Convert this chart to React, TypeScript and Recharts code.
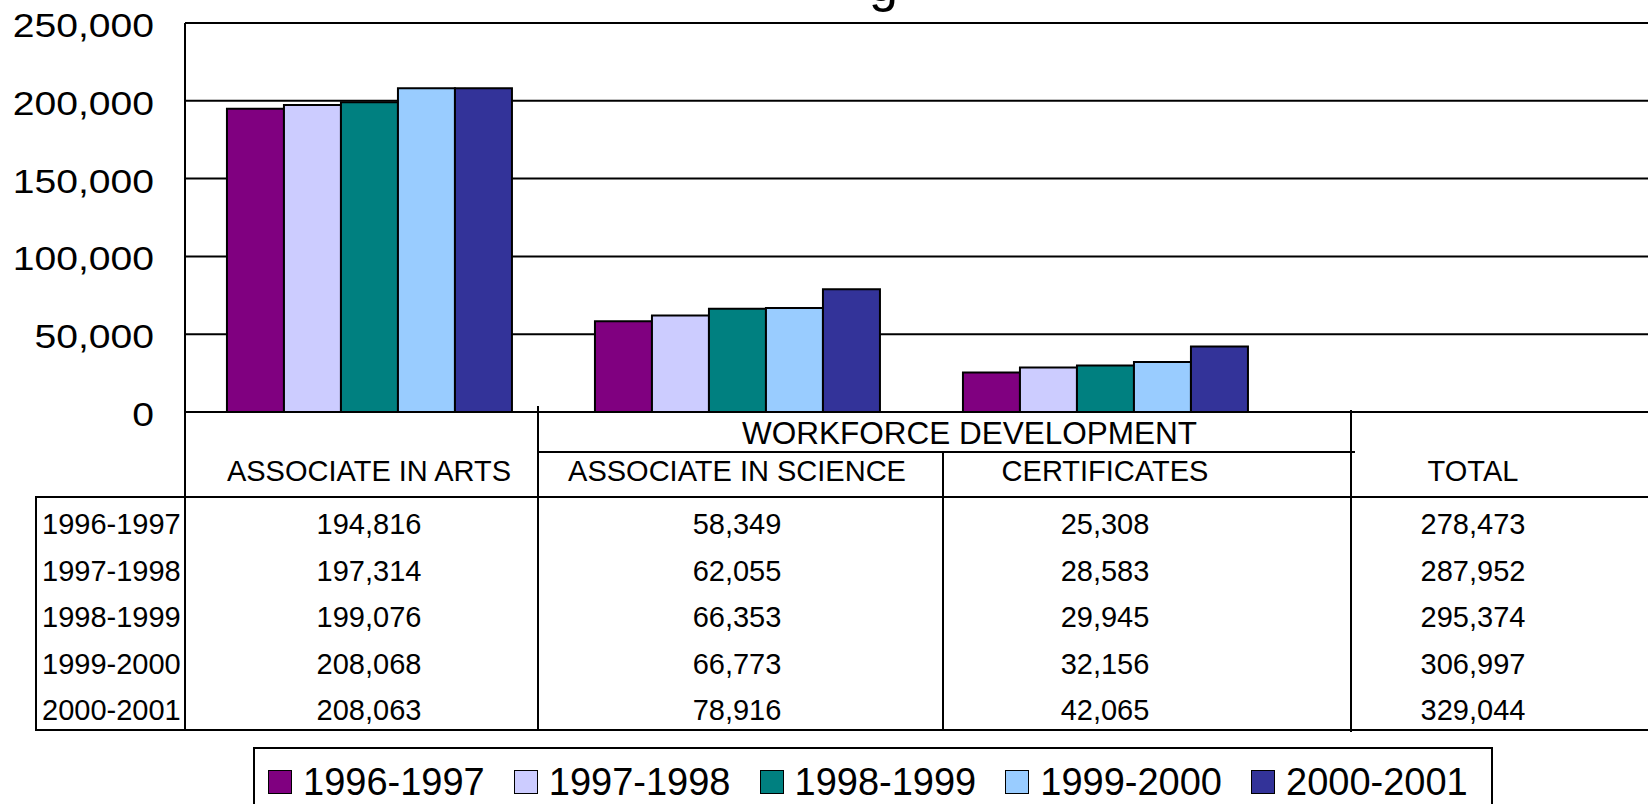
// 学位/证书人数柱状图 + 数据表

import { BarChart, Bar, XAxis, YAxis, CartesianGrid } from 'recharts';

const CATEGORIES = ['ASSOCIATE IN ARTS', 'ASSOCIATE IN SCIENCE', 'CERTIFICATES', 'TOTAL'];
const YEARS = ['1996-1997', '1997-1998', '1998-1999', '1999-2000', '2000-2001'];
const COLORS = ['#800080', '#CCCCFF', '#008080', '#99CCFF', '#333399'];
const Y_TICKS = [0, 50000, 100000, 150000, 200000, 250000];

// values per year
const ARTS = [194816, 197314, 199076, 208068, 208063];
const SCIENCE = [58349, 62055, 66353, 66773, 78916];
const CERTS = [25308, 28583, 29945, 32156, 42065];
const TOTALS = [278473, 287952, 295374, 306997, 329044];

const TABLE_COLUMNS = [ARTS, SCIENCE, CERTS, TOTALS];
// bars are drawn for the programs only, not the total
const BAR_COLUMNS = [ARTS, SCIENCE, CERTS, null];

const data = CATEGORIES.map((name, c) => {
  const row: Record<string, string | number | null> = { name };
  YEARS.forEach((year, i) => {
    const col = BAR_COLUMNS[c];
    row[year] = col ? col[i] : null;
  });
  return row;
});

const FONT = '"Liberation Sans", Arial, sans-serif';
const fmt = (v: number) => v.toLocaleString('en-US');

const HEADER_Y = 471;
const ROW_Y = [524, 570.5, 617, 663.5, 710];

function YTick({ x, y, payload }: any) {
  return (
    <g transform={`translate(${x},${y})`}>
      <text transform="scale(1.15,1)" textAnchor="end" dy="0.41em" fontSize={34} fontFamily={FONT} fill="#000">
        {fmt(payload.value)}
      </text>
    </g>
  );
}

function TableColumn({ x, payload }: any) {
  const c = CATEGORIES.indexOf(payload.value);
  const values = TABLE_COLUMNS[c] || [];
  return (
    <g fontFamily={FONT} fontSize={29} fill="#000" textAnchor="middle">
      <text x={x} y={HEADER_Y} dy="0.36em">{payload.value}</text>
      {values.map((v, i) => (
        <text key={i} x={x} y={ROW_Y[i]} dy="0.36em">{fmt(v)}</text>
      ))}
    </g>
  );
}

export default function App() {
  return (
    <div style={{ position: 'absolute', left: 0, top: 0, width: 1648, height: 804, overflow: 'hidden', background: '#fff' }}>
      <BarChart
        width={1657}
        height={804}
        data={data}
        margin={{ top: 23, right: 0, left: 0, bottom: 0 }}
        barCategoryGap="11.4%"
        barGap={0}
      >
        <CartesianGrid horizontal vertical={false} stroke="#000" strokeWidth={2} />
        <XAxis
          dataKey="name"
          height={392}
          axisLine={false}
          tickLine={false}
          interval={0}
          tick={<TableColumn />}
        />
        <YAxis
          width={185}
          domain={[0, 250000]}
          ticks={Y_TICKS}
          axisLine={{ stroke: '#000', strokeWidth: 2 }}
          tickLine={false}
          tickSize={0}
          tickMargin={31}
          tick={<YTick />}
        />
        {YEARS.map((year, i) => (
          <Bar key={year} dataKey={year} fill={COLORS[i]} stroke="#000" strokeWidth={2} isAnimationActive={false} />
        ))}
      </BarChart>

      {/* data table rules, row labels, title remnant */}
      <svg width={1648} height={804} style={{ position: 'absolute', left: 0, top: 0, pointerEvents: 'none' }}>
        <text x={869} y={1} fontSize={52} fontFamily={FONT} fill="#000">g</text>
        <g stroke="#000" strokeWidth={2}>
          <line x1={185} y1={412} x2={185} y2={730} />
          <line x1={538} y1={406} x2={538} y2={730} />
          <line x1={538} y1={452} x2={1355} y2={452} />
          <line x1={943} y1={453} x2={943} y2={730} />
          <line x1={1351} y1={410} x2={1351} y2={732} />
          <line x1={36} y1={497} x2={1648} y2={497} />
          <line x1={36} y1={496} x2={36} y2={730} />
          <line x1={35} y1={730} x2={1648} y2={730} />
        </g>
        <text x={742} y={433} dy="0.36em" fontSize={31.5} fontFamily={FONT} fill="#000">WORKFORCE DEVELOPMENT</text>
        <g fontFamily={FONT} fontSize={29} fill="#000">
          {YEARS.map((year, i) => (
            <text key={year} x={42} y={ROW_Y[i]} dy="0.36em">{year}</text>
          ))}
        </g>
      </svg>

      {/* legend */}
      <div
        style={{
          position: 'absolute',
          left: 253,
          top: 747,
          width: 1236,
          height: 80,
          border: '2px solid #000',
          background: '#fff',
          fontFamily: FONT,
        }}
      >
        {YEARS.map((year, i) => (
          <div key={year} style={{ position: 'absolute', left: 13 + i * 245.75, top: 19, display: 'flex', alignItems: 'center', whiteSpace: 'nowrap' }}>
            <span style={{ width: 22, height: 22, background: COLORS[i], border: '1.5px solid #000', display: 'inline-block' }} />
            <span style={{ fontSize: 38, lineHeight: '28px', marginLeft: 11, color: '#000' }}>{year}</span>
          </div>
        ))}
      </div>
    </div>
  );
}
